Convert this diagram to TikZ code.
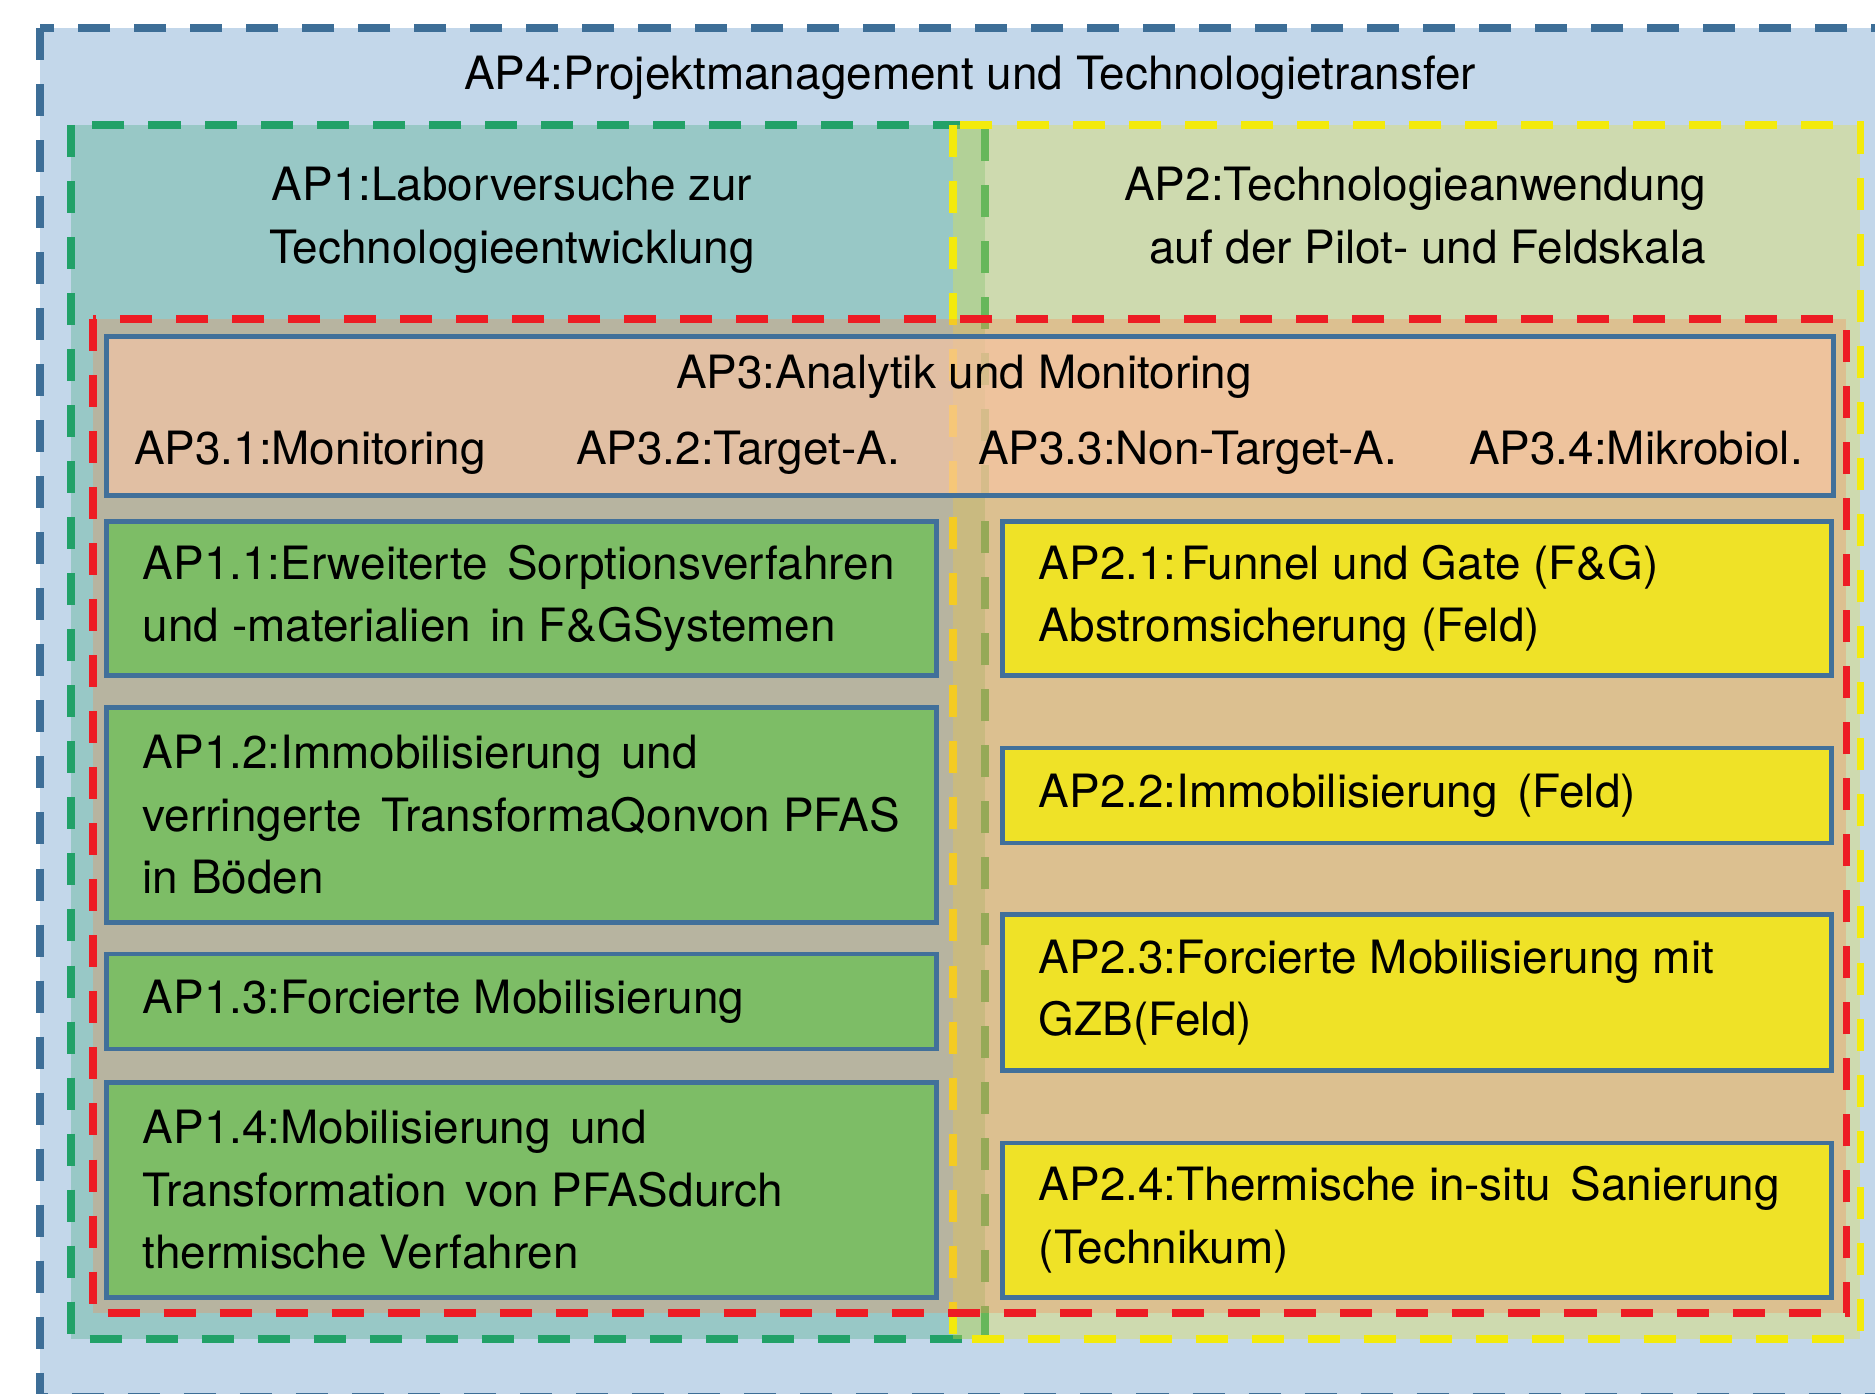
\documentclass[tikz,border=0pt]{standalone}
\usepackage{fontspec}
\setmainfont{TeX Gyre Heros}

\definecolor{apfourfill}{HTML}{C3D7EA}
\definecolor{apfourline}{HTML}{3D6E97}
\definecolor{aponefill}{HTML}{98C8C6}
\definecolor{aponeline}{HTML}{22A168}
\definecolor{aptwofill}{HTML}{E5E241}
\definecolor{aptwoline}{HTML}{F3EA0C}
\definecolor{apthreefill}{HTML}{F98E53}
\definecolor{apthreeline}{HTML}{ED1C24}
\definecolor{headfill}{HTML}{F8C6A5}
\definecolor{boxline}{HTML}{41709A}
\definecolor{boxgreen}{HTML}{7DBD66}
\definecolor{boxyellow}{HTML}{EFE227}

% wider gap between two words
\newcommand\wgap{\hspace{0.42em}}

\begin{document}
\begin{tikzpicture}[x=0.01cm, y=-0.01cm,
  every node/.style={inner sep=0pt, outer sep=0pt, text=black,
    font=\fontsize{13.05}{17.8}\selectfont},
  region/.style={line width=2pt, dash pattern=on 0.32cm off 0.24cm},
  wpbox/.style={draw=boxline, line width=1.4pt, minimum width=8.29cm},
  gbox/.style={wpbox, fill=boxgreen},
  ybox/.style={wpbox, fill=boxyellow, minimum width=8.28cm},
  boxtext/.style={anchor=west, align=left, xshift=0.36cm},
]
\useasboundingbox (0,0) rectangle (1875,1394);
\clip (0,0) rectangle (1875,1394);

% AP4: project management frame
\fill[apfourfill] (40,28) rectangle (1900,1397);
\draw[region, draw=apfourline] (40,28) rectangle (1900,1397);

% AP1: laboratory tests
\fill[aponefill] (71,125) rectangle (985,1339);
\draw[region, draw=aponeline] (71,125) rectangle (985,1339);

% AP2: pilot and field scale
\fill[aptwofill, fill opacity=0.35] (953,125) rectangle (1860,1339);
\draw[region, draw=aptwoline] (953,125) rectangle (1860,1339);

% AP3: analytics and monitoring
\fill[apthreefill, fill opacity=0.33] (93,319) rectangle (1846,1313);
\draw[region, draw=apthreeline] (93,319) rectangle (1846,1313);

% titles
\node[anchor=base] (apfourtitle) at (970,90)
  {AP4:Projektmanagement und Technologietransfer};
\node[align=center] (aponetitle) at (512,220)
  {AP1:Laborversuche zur\\Technologieentwicklung};
\node[align=right, anchor=east] (aptwotitle) at (1706,215.5)
  {AP2:Technologieanwendung\\auf der Pilot- und Feldskala};

% AP3 header bar
\node[draw=boxline, line width=1.4pt, fill=headfill, fill opacity=0.66,
  minimum width=17.26cm, minimum height=1.58cm] (head) at (970,416) {};
\node[anchor=base] (apthreetitle) at (964,388) {AP3:Analytik und Monitoring};
\node[anchor=base west] (ap31) at (134,464) {AP3.1:Monitoring};
\node[anchor=base west] (ap32) at (576,464) {AP3.2:Target-A.};
\node[anchor=base west] (ap33) at (978,464) {AP3.3:Non-Target-A.};
\node[anchor=base west] (ap34) at (1469,464) {AP3.4:Mikrobiol.};

% AP1 work packages
\node[gbox, minimum height=1.53cm] (ap11) at (521.5,598.5) {};
\node[boxtext] (ap11t) at (ap11.west)
  {AP1.1:Erweiterte\wgap Sorptionsverfahren\\und -materialien\wgap in F\&GSystemen};
\node[gbox, minimum height=2.14cm] (ap12) at (521.5,815) {};
\node[boxtext] (ap12t) at (ap12.west)
  {AP1.2:Immobilisierung\wgap und\\verringerte\wgap TransformaQonvon PFAS\\in Böden};
\node[gbox, minimum height=0.95cm] (ap13) at (521.5,1001.5) {};
\node[boxtext] (ap13t) at (ap13.west) {AP1.3:Forcierte Mobilisierung};
\node[gbox, minimum height=2.14cm] (ap14) at (521.5,1190) {};
\node[boxtext] (ap14t) at (ap14.west)
  {AP1.4:Mobilisierung\wgap und\\Transformation\wgap von PFASdurch\\thermische Verfahren};

% AP2 work packages
\node[ybox, minimum height=1.53cm] (ap21) at (1417,598.5) {};
\node[boxtext] (ap21t) at (ap21.west)
  {AP2.1:\hspace{0.1em}Funnel und Gate (F\&G)\\Abstromsicherung (Feld)};
\node[ybox, minimum height=0.95cm] (ap22) at (1417,795.5) {};
\node[boxtext] (ap22t) at (ap22.west) {AP2.2:Immobilisierung\wgap (Feld)};
\node[ybox, minimum height=1.55cm] (ap23) at (1417,992.5) {};
\node[boxtext] (ap23t) at (ap23.west)
  {AP2.3:Forcierte Mobilisierung mit\\GZB(Feld)};
\node[ybox, minimum height=1.54cm] (ap24) at (1417,1220) {};
\node[boxtext] (ap24t) at (ap24.west)
  {AP2.4:Thermische in-situ\wgap Sanierung\\(Technikum)};
\end{tikzpicture}
\end{document}
